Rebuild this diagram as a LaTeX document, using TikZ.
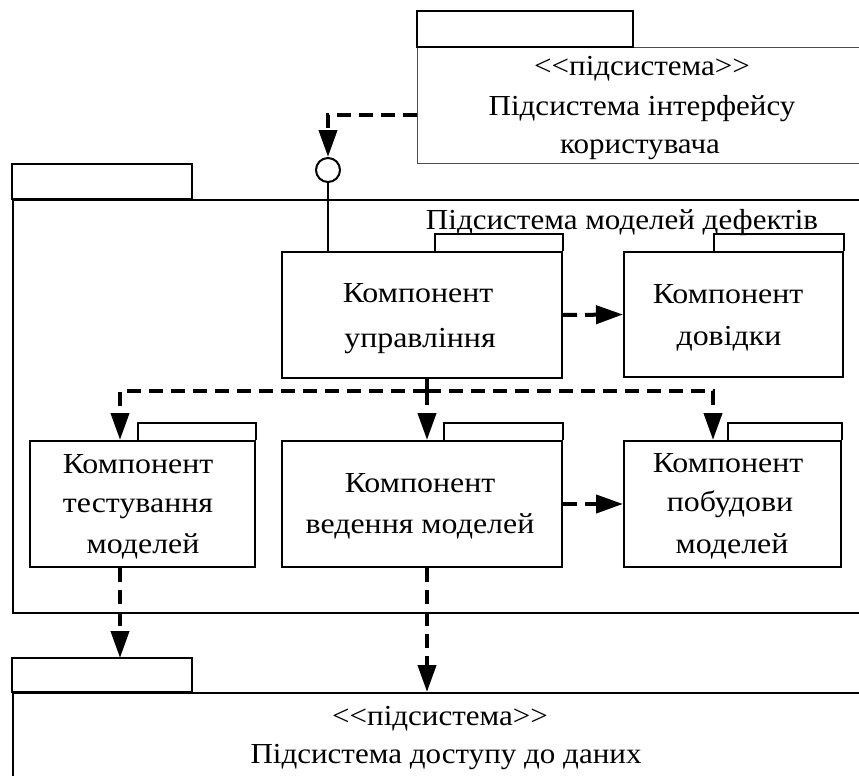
\documentclass[tikz,border=0pt]{standalone}
\usepackage{fontspec}
\setmainfont{Liberation Serif}
\newfontfamily\compfont{Liberation Serif}[FakeStretch=1.1]
\newfontfamily\pkgfont{Liberation Serif}[FakeStretch=1.07]
\usetikzlibrary{arrows.meta,calc}

\begin{document}
\begin{tikzpicture}[x=1pt,y=-1pt,
  pkgline/.style={draw=black,line width=2.2pt},
  thinline/.style={draw=black!70,line width=1.3pt},
  comp/.style={draw=black,line width=2pt,rectangle,inner sep=0pt},
  ctext/.style={inner sep=0pt,anchor=base,font=\compfont\fontsize{29}{40}\selectfont},
  ptext/.style={inner sep=0pt,anchor=base,font=\pkgfont\fontsize{29}{40}\selectfont},
  dep/.style={line width=4pt,dash pattern=on 14pt off 8pt,
    -{Triangle[length=27pt,width=18pt]}},
  depplain/.style={line width=4pt,dash pattern=on 14pt off 8pt}
]
\useasboundingbox (0,0) rectangle (859,776);

% user interface subsystem (top right)
\node[thinline,rectangle,inner sep=0pt,minimum width=480pt,minimum height=116pt,anchor=north west] (ui) at (417,47) {};
\draw[pkgline] (417,47) rectangle (633,11);
\node[ptext] (uist) at (642,75) {<{}<підсистема>{}>};
\node[ptext] (uiname1) at (642,115) {Підсистема інтерфейсу};
\node[ptext] (uiname2) at (640,153) {користувача};

% defect models subsystem (frame)
\node[pkgline,rectangle,inner sep=0pt,minimum width=880pt,minimum height=413pt,anchor=north west] (dm) at (12,199) {};
\draw[pkgline] (12,199) rectangle (192,164);
\node[ptext] (dmname) at (622,229) {Підсистема моделей дефектів};

% data access subsystem (bottom)
\node[pkgline,rectangle,inner sep=0pt,minimum width=880pt,minimum height=120pt,anchor=north west] (da) at (12,692) {};
\draw[pkgline] (12,692) rectangle (192,658);
\node[ptext] (dast) at (440,725) {<{}<підсистема>{}>};
\node[ptext] (daname) at (446,763) {Підсистема доступу до даних};

% components
\node[comp,minimum width=280pt,minimum height=126pt] (ctrl) at (422,315) {};
\node[comp,minimum width=219pt,minimum height=125pt] (help) at (733.5,314.5) {};
\node[comp,minimum width=225pt,minimum height=126pt] (test) at (142.5,504) {};
\node[comp,minimum width=280pt,minimum height=126pt] (keep) at (422,504) {};
\node[comp,minimum width=217pt,minimum height=126pt] (build) at (732.5,504) {};

% component captions
\node[ctext] (ctrl1) at (418,302) {Компонент};
\node[ctext] (ctrl2) at (420,347) {управління};
\node[ctext] (help1) at (728,303) {Компонент};
\node[ctext] (help2) at (729,345) {довідки};
\node[ctext] (test1) at (138,473) {Компонент};
\node[ctext] (test2) at (138,512) {тестування};
\node[ctext] (test3) at (143,553) {моделей};
\node[ctext] (keep1) at (420,492) {Компонент};
\node[ctext] (keep2) at (420,533) {ведення моделей};
\node[ctext] (build1) at (728,472) {Компонент};
\node[ctext] (build2) at (730,511) {побудови};
\node[ctext] (build3) at (732,553) {моделей};

% component tabs
\foreach \n/\tx in {ctrl/435,help/714,test/138,keep/444,build/728}{
  \draw[comp] (\tx,0 |- \n.north) -- ++(0,-17) -| (\n.north east);
}

% provided interface of the control component
\node[draw,line width=2pt,circle,minimum size=24pt,inner sep=0pt,fill=white] (iface) at (328,170) {};
\draw[line width=2pt] (iface.south) -- (iface.south |- ctrl.north);
\draw[dep] ([yshift=-9pt]ui.west) -| (iface.north);

% dependencies
\draw[dep] (ctrl.east) -- (help.west);
\draw[dep] (keep.east) -- (build.west);
\coordinate (fork) at ($(ctrl.south)+(5,12)$);
\draw[depplain] ([xshift=5pt]ctrl.south) -- (fork);
\draw[dep] (fork) -| ([xshift=-22.5pt]test.north);
\draw[dep] (fork) -- ([xshift=5pt]keep.north);
\draw[dep] (fork) -| ([xshift=-19.5pt]build.north);
\draw[dep] ([xshift=-22.5pt]test.south) -- ([xshift=-22.5pt]test.south |- 0,658);
\draw[dep] ([xshift=5pt]keep.south) -- ([xshift=5pt]keep.south |- da.north);
\end{tikzpicture}
\end{document}
